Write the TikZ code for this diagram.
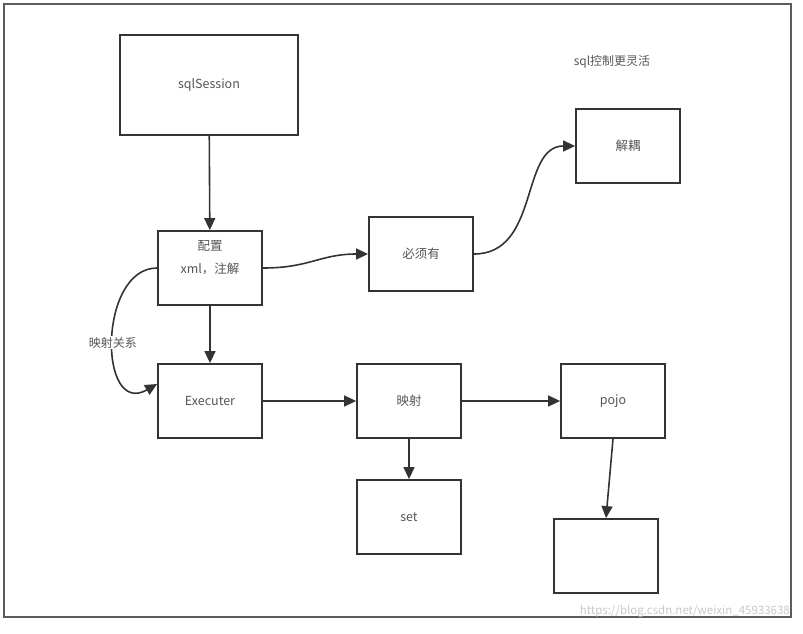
\documentclass[tikz,border=0pt]{standalone}
\usepackage{fontspec}
\setmainfont{Noto Sans CJK SC}
\usetikzlibrary{positioning, arrows.meta}
\definecolor{line_gray}{RGB}{51,51,51}
\definecolor{text_gray}{RGB}{85,85,85}
\definecolor{mark_gray}{RGB}{200,200,200}

\tikzset{
	box/.style={draw=line_gray, line width=1.8pt, rectangle, minimum width=104pt, minimum height=74pt, inner sep=0pt, align=center, text=text_gray, font=\fontsize{12.5}{23}\selectfont},
	link/.style={draw=line_gray, line width=1.6pt, -{Triangle[length=12pt, width=11pt]}},
	note/.style={text=text_gray, font=\fontsize{12}{14}\selectfont, inner sep=1pt}
}

\begin{document}
\begin{tikzpicture}[x=1pt, y=-1pt]
			\useasboundingbox (0,0) rectangle (803,634);
			% --- Begin Frame ---
			\draw [line_gray!80, line width=1.8pt] (4,4) rectangle (791,617);
			% --- End Frame ---

			% --- Begin Nodes ---
			\node [box, minimum width=178pt, minimum height=100pt] (sqlSession) at (209,85) {sqlSession};
			\node [box] (config) at (210,268) {配置\\xml，注解\\\mbox{}};
			\node [box] (must) at (421,254) {必须有};
			\node [box] (decouple) at (628,146) {解耦};
			\node [box] (Executer) at (210,401) {Executer};
			\node [box] (mapping) at (409,401) {映射};
			\node [box] (pojo) at (613,401) {pojo};
			\node [box] (set) at (409,517) {set};
			\node [box] (blank) at (606,556) {};
			\node [note] (flexible) at (612,62) {sql控制更灵活};
			% --- End Nodes ---

			% --- Begin Links ---
			\draw [link] (sqlSession) -- (config);
			\draw [link] (config) -- (Executer);
			\draw [link] (Executer) -- (mapping);
			\draw [link] (mapping) -- (pojo);
			\draw [link] (mapping) -- (set);
			\draw [link] (pojo.south) -- (blank.north);
			\draw [link] (config.east) .. controls (310,268) and (320,254) .. (must.west);
			\draw [link] (must.east) .. controls (540,254) and (520,146) .. (decouple.west);
			\draw [link] (config.west) .. controls (98,268) and (98,418) .. ([yshift=17pt]Executer.west)
				node [pos=0.52, fill=white, note] (relation) {映射关系};
			% --- End Links ---

			% Watermark over the bottom edge
			\node [text=mark_gray, font=\fontsize{11.5}{13}\selectfont, anchor=east, inner sep=0pt] (mark) at (790,611) {https://blog.csdn.net/weixin\_45933638};
		\end{tikzpicture}
\end{document}
